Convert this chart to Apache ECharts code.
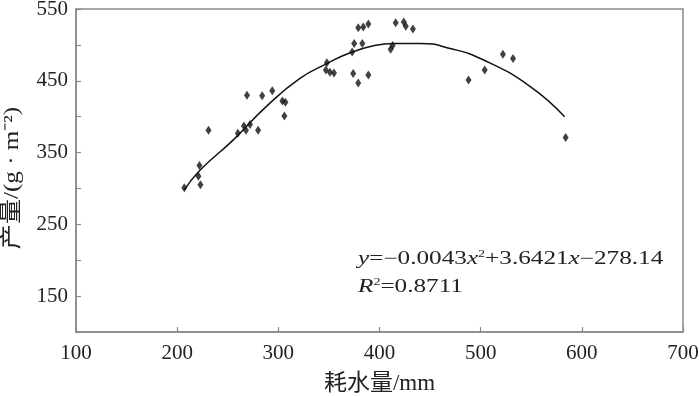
<!DOCTYPE html>
<html>
<head>
<meta charset="utf-8">
<script src="https://cdn.jsdelivr.net/npm/echarts@6/dist/echarts.min.js"></script>
<style>
html,body{margin:0;padding:0;background:#fff;}
#chart{width:700px;height:396px;}
</style>
</head>
<body>
<div id="chart"></div>
<script>
// Observed data: water consumption (mm) and yield (g·m^-2)
const waterUse = [207,221,222,223,231,260,266,268,272,269,280,284,294,304,307,306,348,347,351,355,374,379,389,373,375,383,379,384,389,416,424,426,433,411,413,488,504,522,532,584];
const yieldVals = [301,317,332,305,381,377,387,381,389,430,381,429,436,422,420,401,475,465,462,461,460,447,458,490,502,502,524,525,529,531,532,526,522,494,499,451,465,487,481,371];
// Fitted curve
const curveX = [207,223,255,288,321,348,371,395,414,440,470,503,549,583];
const curveY = [298,326,367,414,453,474,489,499,502,502,495,479,442,400];
const yTickLabels = [150,250,350,450,550];
const xTickLabels = [100,200,300,400,500,600,700];
const xTitle = '耗水量/mm';
const yTitle = '产量/(g · m\u207B\u00B2)';
const eqText = '{i|y}=\u22120.0043{i|x}{s|2}+3.6421{i|x}\u2212278.14';
const r2Text = '{i|R}{s|2}=0.8711';

const serif = '"Liberation Serif","Times New Roman","Noto Sans CJK SC",serif';
const axisGray = '#8a8a8a';
const txt = '#222';

const chart = echarts.init(document.getElementById('chart'), null, {renderer:'canvas'});
const richStyle = {
  i:{fontFamily:serif,fontSize:18,fontStyle:'italic',fill:txt},
  s:{fontFamily:serif,fontSize:10,fill:txt,padding:[0,0,10,0]}
};
const option = {
  backgroundColor:'#fff',
  animation:false,
  grid:{left:76,right:17,top:9,bottom:64,show:true,borderColor:axisGray,borderWidth:1.5,containLabel:false,outerBoundsMode:'none'},
  xAxis:{
    type:'value',min:100,max:700,interval:100,
    name:xTitle,nameLocation:'middle',nameGap:40,
    nameTextStyle:{fontFamily:serif,fontSize:23,color:txt},
    axisLine:{show:true,lineStyle:{color:axisGray,width:1.5}},
    axisTick:{show:true,inside:true,length:5,lineStyle:{color:axisGray,width:1.2}},
    axisLabel:{margin:11,fontFamily:serif,fontSize:21,color:txt,
      formatter:function(v){return xTickLabels.indexOf(v)>=0?String(v):'';}},
    splitLine:{show:false}
  },
  yAxis:{
    type:'value',min:100,max:550,interval:50,
    axisLine:{show:true,lineStyle:{color:axisGray,width:1.5}},
    axisTick:{show:true,inside:true,length:5,lineStyle:{color:axisGray,width:1.2}},
    axisLabel:{margin:8,fontFamily:serif,fontSize:21,color:txt,
      formatter:function(v){return yTickLabels.indexOf(v)>=0?String(v):'';}},
    splitLine:{show:false}
  },
  series:[
    {
      type:'line',
      data:curveX.map((x,i)=>[x,curveY[i]]),
      smooth:0.5,showSymbol:false,symbol:'none',
      lineStyle:{color:'#111',width:1.5},
      z:2
    },
    {
      type:'scatter',
      data:waterUse.map((x,i)=>[x,yieldVals[i]]),
      symbol:'diamond',symbolSize:[6,9],
      itemStyle:{color:'#111'},
      z:3
    }
  ],
  graphic:[
    {type:'text',x:12,y:178,rotation:Math.PI/2,scaleX:1.14,
      style:{text:yTitle,fontFamily:serif,fontSize:22,fill:txt,align:'center',verticalAlign:'middle'}},
    {type:'text',x:358,y:259,scaleX:1.4,
      style:{text:eqText,fontFamily:serif,fontSize:18,fill:txt,align:'left',verticalAlign:'middle',rich:richStyle}},
    {type:'text',x:358,y:287,scaleX:1.4,
      style:{text:r2Text,fontFamily:serif,fontSize:18,fill:txt,align:'left',verticalAlign:'middle',rich:richStyle}}
  ]
};
chart.setOption(option);
</script>
</body>
</html>
